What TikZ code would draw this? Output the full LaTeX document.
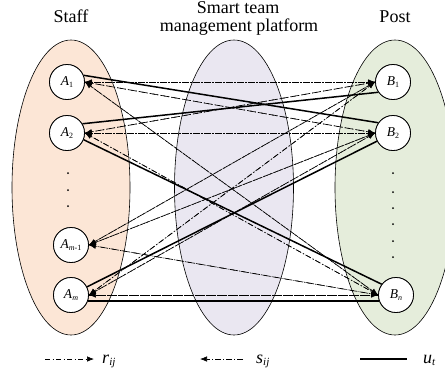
\documentclass[tikz,border=0pt]{standalone}
\usepackage{fontspec}
\setmainfont{Liberation Serif}
\usetikzlibrary{arrows.meta}
\definecolor{staffc}{RGB}{252,230,214}
\definecolor{platc}{RGB}{234,231,241}
\definecolor{postc}{RGB}{229,237,219}
\newcommand{\mysub}[1]{{\fontsize{8}{8}\selectfont\raisebox{-1.8pt}{#1}}}
\newcommand{\legsub}[1]{{\fontsize{11}{11}\selectfont\raisebox{-2.5pt}{#1}}}
\begin{document}
\begin{tikzpicture}[x=1pt,y=-1pt,
  grp/.style={draw=black,line width=0.6pt},
  vert/.style={circle,draw=black,fill=white,line width=0.8pt,minimum size=35pt,inner sep=0pt,font=\fontsize{13.5}{13.5}\selectfont},
  rline/.style={line width=0.65pt,dash pattern=on 5pt off 2.5pt on 1pt off 2.5pt,-{Latex[length=7pt,width=5.5pt]}},
  sline/.style={line width=0.65pt,dash pattern=on 6pt off 2pt on 1pt off 2pt,-{Latex[length=7pt,width=5.5pt]}},
  uline/.style={line width=1.5pt},
  title/.style={anchor=base,font=\fontsize{18}{20}\selectfont,inner sep=0pt},
  legend/.style={anchor=base west,font=\fontsize{18}{18}\selectfont,inner sep=0pt},
  dotmark/.style={fill=black}
]
\path[use as bounding box] (0,0) rectangle (445,373);
\clip (0,0) rectangle (445,373);

% groups
\draw[grp,fill=staffc] (71,187.5) ellipse [x radius=59pt, y radius=147.5pt];
\draw[grp,fill=platc] (234,187.5) ellipse [x radius=59.5pt, y radius=147.5pt];
\draw[grp,fill=postc] (395,187.5) ellipse [x radius=60pt, y radius=147.5pt];

% titles
\node[title] (tstaff) at (71,22.7) {Staff};
\node[title] (tplat1) at (238,13) {Smart team};
\node[title] (tplat2) at (239,31.5) {management platform};
\node[title] (tpost) at (395,22.7) {Post};

% vertices (for anchors)
\node[vert] (A1) at (67,82) {};
\node[vert] (A2) at (67,133) {};
\node[vert] (Am1) at (71,245) {};
\node[vert] (Am) at (71,295) {};
\node[vert] (B1) at (393,82) {};
\node[vert] (B2) at (393,133) {};
\node[vert] (Bn) at (396,295) {};

% dots
\foreach \yy in {173,190,206} \fill[dotmark] (68,\yy) circle (1pt);
\foreach \yy in {173,192,208,224,241,257} \fill[dotmark] (393,\yy) circle (1pt);

% r and s connectors
\foreach \a in {A1,A2,Am1,Am}{
  \foreach \b in {B1,B2,Bn}{
    \draw[rline] (\a.east) -- (\b.west);
    \draw[sline] (\b.west) -- (\a.east);
  }
}

% u connectors
\draw[uline] (A1.22) -- (B2.145);
\draw[uline] (A2.31) -- (B1.215);
\draw[uline] (A2.-22) -- (Bn.143);
\draw[uline] (Am.27) -- (B2.207);
\draw[uline] (Am.-20) -- (Bn.200);

% vertices on top
\node[vert] (A1t) at (A1) {\textit{A}\mysub{1}};
\node[vert] (A2t) at (A2) {\textit{A}\mysub{2}};
\node[vert] (Am1t) at (Am1) {\textit{A}\mysub{\textit{m}-1}};
\node[vert] (Amt) at (Am) {\textit{A}\mysub{\textit{m}}};
\node[vert] (B1t) at (B1) {\textit{B}\mysub{1}};
\node[vert] (B2t) at (B2) {\textit{B}\mysub{2}};
\node[vert] (Bnt) at (Bn) {\textit{B}\mysub{\textit{n}}};

% legend
\coordinate (r1) at (45,359);
\coordinate (r2) at (94,359);
\draw[rline] (r1) -- (r2);
\node[legend] (rl) at (102,363) {\textit{r}\legsub{\textit{ij}}};
\coordinate (s1) at (200,359);
\coordinate (s2) at (243,359);
\draw[sline] (s2) -- (s1);
\node[legend] (sl) at (256,363) {\textit{s}\legsub{\textit{ij}}};
\coordinate (u1) at (360,359);
\coordinate (u2) at (407,359);
\draw[uline] (u1) -- (u2);
\node[legend] (ul) at (423,363) {\textit{u}\legsub{\textit{t}}};
\end{tikzpicture}
\end{document}
